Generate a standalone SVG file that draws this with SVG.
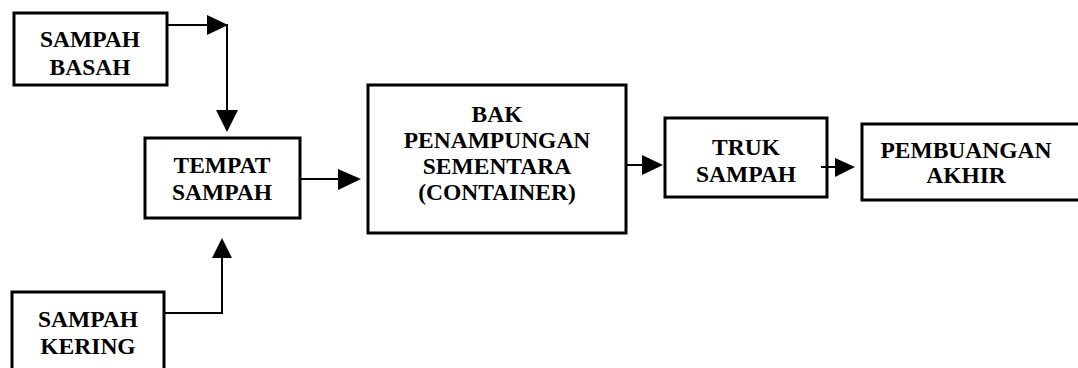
<svg xmlns="http://www.w3.org/2000/svg" width="1078" height="368" viewBox="0 0 1078 368">
  <style>
    .box { fill: #ffffff; stroke: #000000; stroke-width: 3; }
    .lbl { font-family: "Liberation Serif", "Times New Roman", serif; font-weight: bold; font-size: 23.5px; fill: #000000; text-anchor: middle; }
    .wire { fill: none; stroke: #000000; stroke-width: 2; }
    .head { fill: #000000; stroke: none; }
  </style>
  <rect width="1078" height="368" fill="#ffffff"/>

  <g id="sampah-basah">
    <rect class="box" x="14" y="13" width="153" height="72"/>
    <text class="lbl" x="90" y="47">SAMPAH</text>
    <text class="lbl" x="90" y="75">BASAH</text>
  </g>

  <g id="sampah-kering">
    <rect class="box" x="12" y="292" width="152" height="90"/>
    <text class="lbl" x="88" y="327">SAMPAH</text>
    <text class="lbl" x="88" y="354">KERING</text>
  </g>

  <g id="tempat-sampah">
    <rect class="box" x="145" y="138" width="155" height="80"/>
    <text class="lbl" x="222" y="173">TEMPAT</text>
    <text class="lbl" x="222" y="200">SAMPAH</text>
  </g>

  <g id="bak-penampungan">
    <rect class="box" x="368" y="85" width="258" height="148"/>
    <text class="lbl" x="497" y="122">BAK</text>
    <text class="lbl" x="497" y="148">PENAMPUNGAN</text>
    <text class="lbl" x="497" y="174">SEMENTARA</text>
    <text class="lbl" x="497" y="200">(CONTAINER)</text>
  </g>

  <g id="truk-sampah">
    <rect class="box" x="665" y="118" width="162" height="79"/>
    <text class="lbl" x="746" y="155">TRUK</text>
    <text class="lbl" x="746" y="182">SAMPAH</text>
  </g>

  <g id="pembuangan-akhir">
    <rect class="box" x="862" y="124" width="230" height="76"/>
    <text class="lbl" x="966" y="158">PEMBUANGAN</text>
    <text class="lbl" x="966" y="183">AKHIR</text>
  </g>

  <g id="connectors">
    <!-- wet waste: right, then down into the bin -->
    <polyline class="wire" points="167,25 227,25 227,112"/>
    <polygon class="head" points="207,15 228,25 207,35"/>
    <polygon class="head" points="216,110 238,110 227,132"/>

    <!-- dry waste: right, then up into the bin -->
    <polyline class="wire" points="164,313 222,313 222,256"/>
    <polygon class="head" points="212,258 232,258 222,238"/>

    <!-- bin to container -->
    <line class="wire" x1="300" y1="179" x2="340" y2="179"/>
    <polygon class="head" points="338,169 361,179 338,190"/>

    <!-- container to truck -->
    <line class="wire" x1="626" y1="165" x2="644" y2="165"/>
    <polygon class="head" points="642,155 663,165 642,175"/>

    <!-- truck to final disposal -->
    <line class="wire" x1="821" y1="167" x2="837" y2="167"/>
    <polygon class="head" points="835,158 855,167 835,177"/>
  </g>
</svg>
